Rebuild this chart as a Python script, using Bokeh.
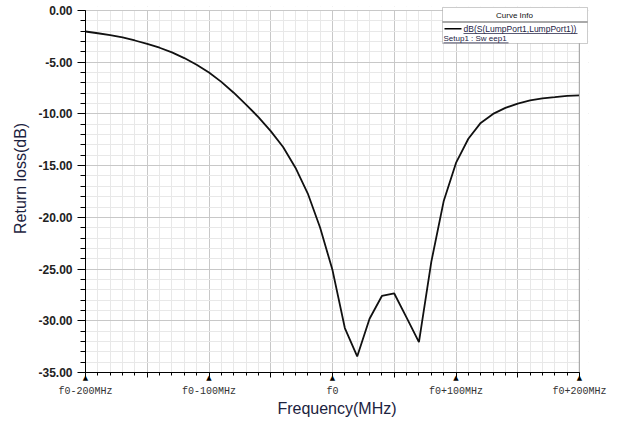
from bokeh.plotting import figure
from bokeh.models import (FixedTicker, NumeralTickFormatter, LinearAxis, Label,
                          BoxAnnotation, Range1d)
from bokeh.embed import file_html
from bokeh.resources import INLINE

# ---------------- data ----------------
freq_offset_mhz = [-200, -190, -180, -170, -160, -150, -140, -130, -120, -110,
                   -100, -90, -80, -70, -60, -50, -40, -30, -20, -10,
                   0, 10, 20, 30, 40, 50, 60, 70, 80, 90,
                   100, 110, 120, 130, 140, 150, 160, 170, 180, 190, 200]
return_loss_db = [-2.03, -2.20, -2.38, -2.60, -2.90, -3.23, -3.60, -4.05, -4.60, -5.25,
                  -6.00, -6.90, -7.95, -9.10, -10.30, -11.66, -13.20, -15.20, -17.70, -21.00,
                  -25.10, -30.70, -33.45, -29.80, -27.60, -27.36, -29.70, -32.07, -24.30, -18.45,
                  -14.74, -12.40, -10.87, -10.00, -9.42, -9.00, -8.70, -8.50, -8.38, -8.25, -8.20]

x_tick_values = [-200, -150, -100, -50, 0, 50, 100, 150, 200]
x_marked_ticks = [-200, -100, 0, 100, 200]
x_marked_labels = ["f0-200MHz", "f0-100MHz", "f0", "f0+100MHz", "f0+200MHz"]
y_tick_values = [0, -5, -10, -15, -20, -25, -30, -35]
x_minor = list(range(-200, 201, 10))
y_minor = list(range(-35, 1))

# plot area: x -200..200 over 494 px, y -35..0 over 362 px; the frame is
# extended a little up/right so that the legend box can overhang the grid
XMIN, XMAX, YMIN, YMAX = -200, 200, -35, 0
PX_PER_MHZ = 494 / 400
PX_PER_DB = 362 / 35
EXT_RIGHT, EXT_TOP = 9, 4
x_end = XMAX + EXT_RIGHT / PX_PER_MHZ
y_end = YMAX + EXT_TOP / PX_PER_DB

p = figure(width=626, height=421, output_backend="svg", toolbar_location=None,
           x_range=Range1d(XMIN, x_end), y_range=Range1d(YMIN, y_end),
           min_border_left=85, min_border_right=626 - 579 - EXT_RIGHT,
           min_border_top=10 - EXT_TOP, min_border_bottom=49)
p.background_fill_color = "white"
p.border_fill_color = "white"
p.outline_line_color = None

# grids
p.xgrid.ticker = FixedTicker(ticks=x_tick_values, minor_ticks=x_minor)
p.ygrid.ticker = FixedTicker(ticks=y_tick_values, minor_ticks=y_minor)
for g in (p.xgrid, p.ygrid):
    g.grid_line_color = "#c8c8c8"
    g.minor_grid_line_color = "#e8e8e8"

# x axis (nearest frame): line, ticks and triangle markers
xa = p.xaxis[0]
xa.ticker = FixedTicker(ticks=x_tick_values, minor_ticks=x_minor)
xa.major_label_overrides = {v: ("▲" if v in x_marked_ticks else "") for v in x_tick_values}
xa.major_label_text_font = "DejaVu Sans"
xa.major_label_text_font_size = "7px"
xa.major_label_text_color = "black"
xa.major_label_standoff = -4
xa.axis_line_color = "black"
xa.major_tick_line_color = "black"
xa.minor_tick_line_color = "black"
xa.major_tick_out = 5
xa.major_tick_in = 0
xa.minor_tick_out = 3
xa.minor_tick_in = 0
xa.bounds = (XMIN, XMAX)

# x axis text labels
xb = LinearAxis(ticker=FixedTicker(ticks=x_marked_ticks, minor_ticks=[]),
                major_label_overrides={v: t for v, t in zip(x_marked_ticks, x_marked_labels)},
                major_label_text_font="Liberation Mono", major_label_text_font_size="10px",
                major_label_text_color="#333333", major_label_standoff=1,
                axis_line_color=None, major_tick_line_color=None, minor_tick_line_color=None,
                major_tick_out=0, major_tick_in=0,
                axis_label="Frequency(MHz)", axis_label_text_font="Liberation Sans",
                axis_label_text_font_size="16px", axis_label_text_font_style="normal",
                axis_label_text_color="#1c2340", axis_label_standoff=0)
p.add_layout(xb, "below")

# y axis
ya = p.yaxis[0]
ya.ticker = FixedTicker(ticks=y_tick_values, minor_ticks=y_minor)
ya.formatter = NumeralTickFormatter(format="0.00")
ya.bounds = (YMIN, YMAX)
ya.major_label_text_font = "Liberation Sans"
ya.major_label_text_font_style = "bold"
ya.major_label_text_font_size = "12px"
ya.major_label_text_color = "#222222"
ya.major_label_standoff = 5
ya.axis_line_color = "black"
ya.major_tick_line_color = "black"
ya.minor_tick_line_color = "black"
ya.major_tick_out = 8
ya.major_tick_in = 0
ya.minor_tick_out = 5
ya.minor_tick_in = 0
ya.axis_label = "\u00a0" * 5 + "Return loss(dB)"
ya.axis_label_text_font = "Liberation Sans"
ya.axis_label_text_font_size = "16px"
ya.axis_label_text_font_style = "normal"
ya.axis_label_text_color = "#1c2340"
ya.axis_label_standoff = 6

# curve
p.line(freq_offset_mhz, return_loss_db, line_color="#111111", line_width=1.8)

# white covers over the frame extension, and the right border line
p.add_layout(BoxAnnotation(left=XMAX, right=x_end, bottom=YMIN, top=y_end,
                           fill_color="white", fill_alpha=1.0, line_color=None, level="glyph"))
p.add_layout(BoxAnnotation(left=XMIN, right=x_end, bottom=YMAX + 0.6 / PX_PER_DB, top=y_end,
                           fill_color="white", fill_alpha=1.0, line_color=None, level="glyph"))
p.segment(x0=[XMAX], y0=[YMIN], x1=[XMAX], y1=[YMAX], line_color="#555555", line_width=1.2)

# legend box (canvas pixel units)
def cbox(l, r, t, b, **kw):
    return BoxAnnotation(left=l, right=r, top=t, bottom=b, left_units="canvas",
                         right_units="canvas", top_units="canvas", bottom_units="canvas",
                         level="overlay", **kw)

p.add_layout(cbox(442, 587, 7, 43, fill_color="white", fill_alpha=1.0,
                  line_color="#555555", line_width=1))
p.add_layout(cbox(442, 587, 21, 22, fill_color="#555555", fill_alpha=1.0, line_color=None))
p.add_layout(cbox(444, 461, 27.5, 29, fill_color="black", fill_alpha=1.0, line_color=None))
p.add_layout(cbox(463, 577, 32.5, 33.3, fill_color="#222244", fill_alpha=1.0, line_color=None))
p.add_layout(cbox(443, 508, 42, 42.8, fill_color="#222244", fill_alpha=1.0, line_color=None))

p.add_layout(Label(x=514, y=14.5, x_units="canvas", y_units="canvas", text="Curve Info",
                   text_font="Liberation Sans", text_font_size="8px", text_align="center",
                   text_baseline="middle", text_color="#111111", level="overlay"))
p.add_layout(Label(x=463, y=28, x_units="canvas", y_units="canvas",
                   text="dB(S(LumpPort1,LumpPort1))",
                   text_font="Liberation Sans", text_font_size="8.5px", text_align="left",
                   text_baseline="middle", text_color="#222244", level="overlay"))
p.add_layout(Label(x=443, y=37.5, x_units="canvas", y_units="canvas", text="Setup1 : Sw eep1",
                   text_font="Liberation Sans", text_font_size="8px", text_align="left",
                   text_baseline="middle", text_color="#222244", level="overlay"))

open("out.html", "w").write(file_html(p, INLINE))
